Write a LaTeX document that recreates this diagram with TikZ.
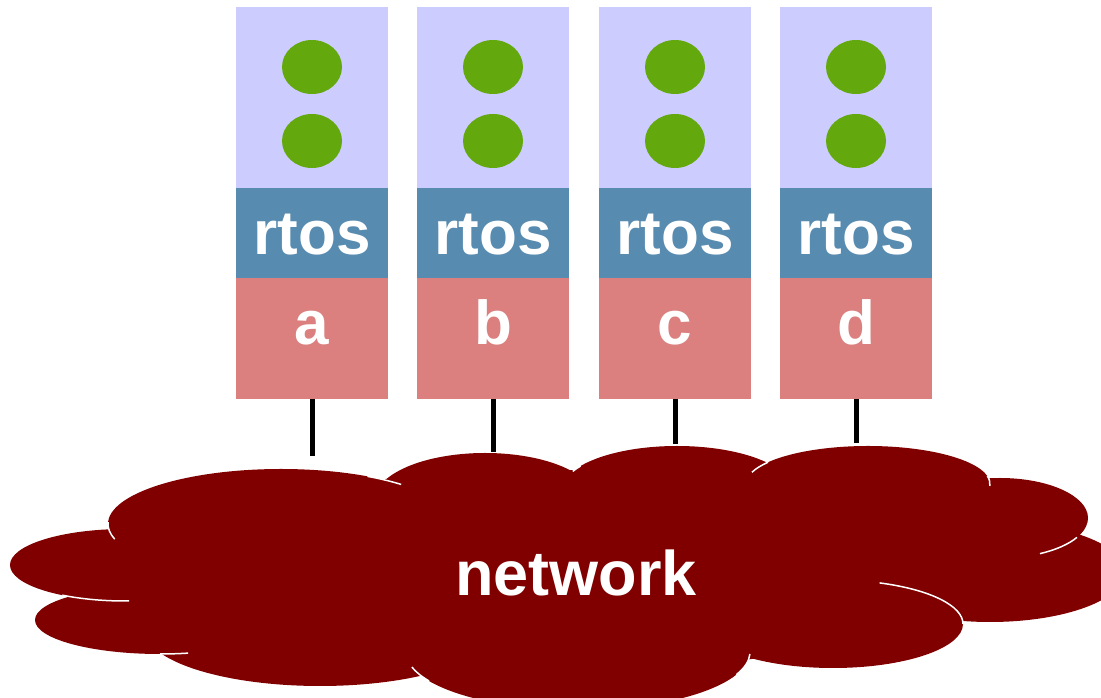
\documentclass[tikz,border=0pt]{standalone}
\usepackage{fontspec}
\setmainfont{Liberation Sans}
\usetikzlibrary{positioning,shapes.geometric}
\definecolor{appbg}{HTML}{CCCCFF}
\definecolor{osbg}{HTML}{588BB0}
\definecolor{hwbg}{HTML}{DB7F7F}
\definecolor{thrd}{HTML}{63A80C}
\definecolor{cloud}{HTML}{800000}

\begin{document}
\begin{tikzpicture}[x=1pt,y=1pt,
    layer/.style={rectangle,minimum width=152pt,inner sep=0pt,outer sep=0pt,
      text=white,font=\fontsize{62}{70}\selectfont\bfseries},
    app/.style={layer,fill=appbg,minimum height=181pt},
    os/.style={layer,fill=osbg,minimum height=90pt,text height=44pt,text depth=0pt},
    hw/.style={layer,fill=hwbg,minimum height=121pt,text height=20pt,text depth=7pt},
    thread/.style={ellipse,fill=thrd,minimum width=60pt,minimum height=54pt,inner sep=0pt},
    wire/.style={line width=5pt},
    puff/.style={fill=cloud},
    seam/.style={white,line width=1.5pt}]
  \useasboundingbox (0,0) rectangle (1101,698);
  \clip (0,0) rectangle (1101,698);

  % the network cloud
  \foreach \cx/\cy/\rx/\ry in {560/128/420/100, 125/133/115/36, 160/78/125/34,
      281/174/173/55, 320/68/175/56, 485/198/110/47, 677/208/115/44,
      868/214/122/38, 1000/180/88/40, 990/126/135/50, 833/74/130/44, 578/46/172/58}
    \fill[puff] (\cx,\cy) ellipse [x radius=\rx, y radius=\ry];
  \foreach \cx/\cy/\rx/\ry/\a/\b in {125/133/115/36/237/272, 160/78/125/34/270/283,
      281/174/173/55/46/60, 281/174/173/55/178/196, 578/46/172/58/195/210,
      578/46/172/58/337/358, 677/208/115/44/147/155, 868/214/122/38/145/162,
      868/214/122/38/-3/12, 1000/180/88/40/-63/-29, 833/74/130/44/0/69}
    \draw[seam] ({\cx+\rx*cos(\a)},{\cy+\ry*sin(\a)})
      arc[start angle=\a, end angle=\b, x radius=\rx, y radius=\ry];
  \node[text=white,font=\fontsize{63}{70}\selectfont\bfseries] (net) at (576,125) {network};

  % the four nodes
  \foreach \n/\x/\y in {a/312/242, b/493/246, c/675/254, d/856/255}{
    \node[app] (app\n) at (\x,600.5) {};
    \node[os, below=0pt of app\n] (os\n) {rtos};
    \node[hw, below=0pt of os\n] (\n) {\n};
    \node[thread] (\n1) at (\x,631) {};
    \node[thread] (\n2) at (\x,557) {};
    \coordinate (t\n) at (\x,\y);
    \draw[wire] (\n) -- (t\n);
  }
\end{tikzpicture}
\end{document}
